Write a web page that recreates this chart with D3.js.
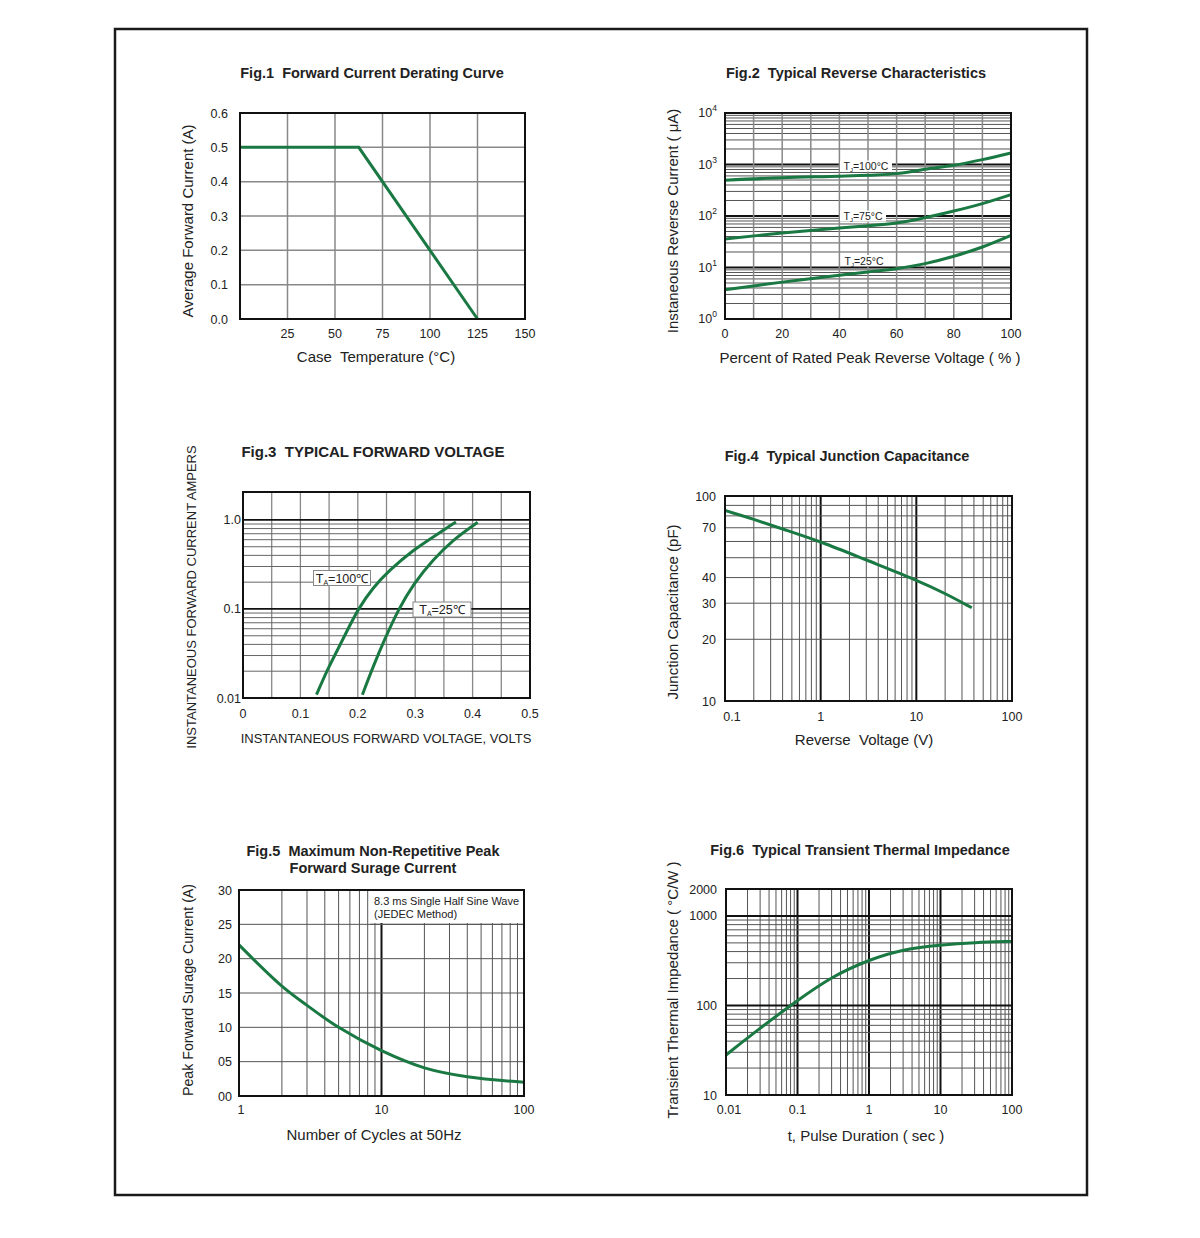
<!DOCTYPE html>
<html><head><meta charset="utf-8">
<script src="https://cdn.jsdelivr.net/npm/d3@7"></script>
<style>
body{margin:0;background:#fff;}
svg text{font-family:"Liberation Sans",Arial,sans-serif;fill:#222;white-space:pre;}
</style></head>
<body>
<svg id="c" width="1200" height="1238"></svg>
<script>
// ---------- DATA ----------
// Fig.1 Forward current derating
const fig1Temp = [0, 62.5, 125];
const fig1Current = [0.5, 0.5, 0.0];
const fig1XTicks = [25, 50, 75, 100, 125, 150];
const fig1YTicks = [0.0, 0.1, 0.2, 0.3, 0.4, 0.5, 0.6];

// Fig.2 Reverse characteristics
const fig2Pct = [0, 20, 40, 50, 60, 70, 80, 90, 100];
const fig2T100 = [493, 556, 590, 620, 665, 807, 965, 1245, 1672];
const fig2T75 = [35.7, 46.8, 58.5, 65, 73, 93, 125, 174, 260];
const fig2T25 = [3.7, 5.2, 7.06, 8.2, 9.5, 11.9, 16.5, 25, 42];
const fig2XTicks = [0, 20, 40, 60, 80, 100];
const fig2YExp = [0, 1, 2, 3, 4];
const fig2Labels = ["=100°C", "=75°C", "=25°C"];

// Fig.3 Forward voltage
const fig3V100 = [0.128, 0.148, 0.165, 0.182, 0.2006, 0.2267, 0.2558, 0.2965, 0.337, 0.371];
const fig3I100 = [0.0109, 0.0215, 0.035, 0.058, 0.1, 0.175, 0.275, 0.46, 0.68, 0.95];
const fig3V25 = [0.208, 0.2267, 0.247, 0.2704, 0.2965, 0.3314, 0.366, 0.4088];
const fig3I25 = [0.0109, 0.0226, 0.046, 0.098, 0.19, 0.36, 0.6, 0.94];
const fig3XTicks = [0, 0.1, 0.2, 0.3, 0.4, 0.5];
const fig3YTicks = ["0.01", "0.1", "1.0"];

// Fig.4 Junction capacitance
const fig4V = [0.1, 0.2, 0.4, 1, 3, 10, 20, 38];
const fig4C = [85, 77, 69, 60, 48.7, 39, 33.5, 28.5];
const fig4XTicks = ["0.1", "1", "10", "100"];
const fig4YTicks = [10, 20, 30, 40, 70, 100];

// Fig.5 Surge current
const fig5N = [1, 2, 3, 5, 10, 20, 40, 100];
const fig5I = [22, 16, 13.2, 10, 6.6, 4.1, 2.8, 2.0];
const fig5XTicks = ["1", "10", "100"];
const fig5YTicks = ["00", "05", "10", "15", "20", "25", "30"];

// Fig.6 Transient thermal impedance
const fig6T = [0.01, 0.03, 0.1, 0.3, 1, 3, 10, 30, 100];
const fig6Z = [28, 56, 114, 210, 325, 425, 475, 505, 520];
const fig6XTicks = ["0.01", "0.1", "1", "10", "100"];
const fig6YTicks = [10, 100, 1000, 2000];

// ---------- DRAW ----------
const GREEN = "#1a7943";
const svg = d3.select("#c");
svg.append("rect").attr("x", 115).attr("y", 29).attr("width", 972).attr("height", 1166)
  .attr("fill", "none").attr("stroke", "#1a1a1a").attr("stroke-width", 2.5);

function logMinors(lo, hi) {
  const out = [];
  for (let d = Math.floor(Math.log10(lo)); d < Math.ceil(Math.log10(hi)) + 1; d++) {
    for (let m = 1; m <= 9; m++) {
      const v = m * Math.pow(10, d);
      if (v > lo * 1.0001 && v < hi * 0.9999) out.push(v);
    }
  }
  return out;
}
function isDecade(v) { const l = Math.log10(v); return Math.abs(l - Math.round(l)) < 1e-9; }

function hLines(g, x, y, vals, styleFn) {
  vals.forEach(v => {
    const s = styleFn(v);
    g.append("line").attr("x1", x.range()[0]).attr("x2", x.range()[1])
      .attr("y1", y(v)).attr("y2", y(v)).attr("stroke", s[0]).attr("stroke-width", s[1]);
  });
}
function vLines(g, x, y, vals, styleFn) {
  vals.forEach(v => {
    const s = styleFn(v);
    g.append("line").attr("y1", y.range()[0]).attr("y2", y.range()[1])
      .attr("x1", x(v)).attr("x2", x(v)).attr("stroke", s[0]).attr("stroke-width", s[1]);
  });
}
function frame(g, x, y) {
  const [x0, x1] = x.range(), [y1, y0] = y.range();
  g.append("rect").attr("x", x0).attr("y", y0).attr("width", x1 - x0).attr("height", y1 - y0)
    .attr("fill", "none").attr("stroke", "#111").attr("stroke-width", 2);
}
function title(txt, cx, cy, fs) {
  svg.append("text").attr("x", cx).attr("y", cy).attr("text-anchor", "middle")
    .attr("font-size", fs || 14.5).attr("font-weight", "bold").text(txt);
}
function xTitle(txt, cx, cy, fs) {
  svg.append("text").attr("x", cx).attr("y", cy).attr("text-anchor", "middle")
    .attr("font-size", fs || 15).text(txt);
}
function yTitle(txt, cx, cy, fs) {
  svg.append("text").attr("transform", `translate(${cx},${cy}) rotate(-90)`)
    .attr("text-anchor", "middle").attr("font-size", fs || 15).text(txt);
}
function curve(g, x, y, xs, ys, cv) {
  const line = d3.line().x(d => x(d[0])).y(d => y(d[1])).curve(cv || d3.curveCatmullRom.alpha(0.5));
  g.append("path").attr("d", line(xs.map((v, i) => [v, ys[i]])))
    .attr("fill", "none").attr("stroke", GREEN).attr("stroke-width", 3).attr("stroke-linecap", "butt");
}
function xTickLabels(x, vals, yPos, fmt, firstDx) {
  vals.forEach((v, i) => svg.append("text").attr("x", x(+v) + (i === 0 && firstDx ? firstDx : 0)).attr("y", yPos).attr("text-anchor", "middle")
    .attr("font-size", 12.5).text(fmt ? fmt(v) : v));
}
function yTickLabels(y, vals, xPos, fmt) {
  vals.forEach(v => svg.append("text").attr("x", xPos).attr("y", y(+v) + 4.5).attr("text-anchor", "end")
    .attr("font-size", 12.5).text(fmt ? fmt(v) : v));
}

// ---- Fig.1 ----
{
  const x = d3.scaleLinear().domain([0, 150]).range([240, 525]);
  const y = d3.scaleLinear().domain([0, 0.6]).range([319, 113]);
  const g = svg.append("g");
  vLines(g, x, y, [25, 50, 75, 100, 125], () => ["#888", 1.5]);
  hLines(g, x, y, [0.1, 0.2, 0.3, 0.4, 0.5], () => ["#888", 1.5]);
  curve(g, x, y, fig1Temp, fig1Current, d3.curveLinear);
  frame(g, x, y);
  title("Fig.1  Forward Current Derating Curve", 372, 78);
  xTickLabels(x, fig1XTicks, 337.5);
  yTickLabels(y, fig1YTicks, 228, d => d.toFixed(1));
  xTitle("Case  Temperature (°C)", 376, 362);
  yTitle("Average Forward Current (A)", 193, 221);
}

// ---- Fig.2 ----
{
  const x = d3.scaleLinear().domain([0, 100]).range([725, 1011]);
  const y = d3.scaleLog().domain([1, 10000]).range([319, 113]);
  const g = svg.append("g");
  hLines(g, x, y, logMinors(1, 10000), v => isDecade(v) ? ["#111", 2] : ["#555", 1]);
  vLines(g, x, y, [10, 20, 30, 40, 50, 60, 70, 80, 90], () => ["#888", 1.5]);
  const lab = [[866, 166.5], [863, 216.5], [864, 261]];
  lab.forEach((p, i) => {
    const w = i === 0 ? 52 : 46;
    g.append("rect").attr("x", p[0] - w / 2).attr("y", p[1] - 6).attr("width", w).attr("height", 11).attr("fill", "#fff");
  });
  curve(g, x, y, fig2Pct, fig2T100);
  curve(g, x, y, fig2Pct, fig2T75);
  curve(g, x, y, fig2Pct, fig2T25);
  frame(g, x, y);
  lab.forEach((p, i) => {
    const t = g.append("text").attr("x", p[0]).attr("y", p[1] + 3.5).attr("text-anchor", "middle").attr("font-size", 10.5);
    t.append("tspan").text("T");
    t.append("tspan").attr("font-size", 6).attr("dy", 2).text("J");
    t.append("tspan").attr("dy", -2).text(fig2Labels[i]);
  });
  title("Fig.2  Typical Reverse Characteristics", 856, 78);
  xTickLabels(x, fig2XTicks, 338);
  fig2YExp.forEach(e => {
    const t = svg.append("text").attr("x", 717).attr("y", y(Math.pow(10, e)) + 4).attr("text-anchor", "end").attr("font-size", 12.5);
    t.append("tspan").text("10");
    t.append("tspan").attr("font-size", 8.5).attr("dy", -6).text(e);
  });
  xTitle("Percent of Rated Peak Reverse Voltage ( % )", 870, 363);
  yTitle("Instaneous Reverse Current ( μA)", 678, 221);
}

// ---- Fig.3 ----
{
  const x = d3.scaleLinear().domain([0, 0.5]).range([243, 530]);
  const y = d3.scaleLog().domain([0.01, 2.06]).range([698, 492]);
  const g = svg.append("g");
  vLines(g, x, y, d3.range(1, 10).map(i => i * 0.05), () => ["#888", 1.3]);
  hLines(g, x, y, logMinors(0.01, 1.0001).concat([1]), v => isDecade(v) ? ["#111", 1.8] : ["#666", 1]);
  curve(g, x, y, fig3V100, fig3I100, d3.curveBasis);
  curve(g, x, y, fig3V25, fig3I25, d3.curveBasis);
  frame(g, x, y);
  const lab = [[342, 578, "=100℃", 57], [442, 609.5, "=25℃", 58]];
  lab.forEach(p => {
    g.append("rect").attr("x", p[0] - p[3] / 2).attr("y", p[1] - 7.5).attr("width", p[3]).attr("height", 15)
      .attr("fill", "#fff").attr("stroke", "#888").attr("stroke-width", 1);
    const t = g.append("text").attr("x", p[0]).attr("y", p[1] + 4.5).attr("text-anchor", "middle").attr("font-size", 12.5);
    t.append("tspan").text("T");
    t.append("tspan").attr("font-size", 7).attr("dy", 2).text("A");
    t.append("tspan").attr("dy", -2).text(p[2]);
  });
  title("Fig.3  TYPICAL FORWARD VOLTAGE", 373, 457, 15);
  xTickLabels(x, fig3XTicks, 718, d => d === 0 ? "0" : d.toString());
  yTickLabels(y, fig3YTicks, 241);
  xTitle("INSTANTANEOUS FORWARD VOLTAGE, VOLTS", 386, 743, 13);
  yTitle("INSTANTANEOUS FORWARD CURRENT AMPERS", 196, 597, 13);
}

// ---- Fig.4 ----
{
  const x = d3.scaleLog().domain([0.1, 100]).range([725, 1012]);
  const y = d3.scaleLog().domain([10, 100]).range([701, 496]);
  const g = svg.append("g");
  vLines(g, x, y, logMinors(0.1, 100), v => isDecade(v) ? ["#111", 2] : ["#555", 1]);
  hLines(g, x, y, logMinors(10, 100), () => ["#555", 1]);
  curve(g, x, y, fig4V, fig4C, d3.curveBasis);
  frame(g, x, y);
  title("Fig.4  Typical Junction Capacitance", 847, 461);
  xTickLabels(x, fig4XTicks, 720.5, null, 7);
  yTickLabels(y, fig4YTicks, 716);
  xTitle("Reverse  Voltage (V)", 864, 745);
  yTitle("Junction Capacitance (pF)", 678, 612);
}

// ---- Fig.5 ----
{
  const x = d3.scaleLog().domain([1, 100]).range([239, 524]);
  const y = d3.scaleLinear().domain([0, 30]).range([1096, 890]);
  const g = svg.append("g");
  vLines(g, x, y, logMinors(1, 100), v => isDecade(v) ? ["#111", 2] : ["#555", 1]);
  hLines(g, x, y, [5, 10, 15, 20, 25], () => ["#555", 1]);
  g.append("rect").attr("x", 370).attr("y", 891).attr("width", 153).attr("height", 32).attr("fill", "#fff");
  g.append("line").attr("x1", 370).attr("x2", 524).attr("y1", y(25)).attr("y2", y(25)).attr("stroke", "#555").attr("stroke-width", 1);
  curve(g, x, y, fig5N, fig5I);
  frame(g, x, y);
  svg.append("text").attr("x", 374).attr("y", 904.5).attr("font-size", 11).text("8.3 ms Single Half Sine Wave");
  svg.append("text").attr("x", 374).attr("y", 917.5).attr("font-size", 11).text("(JEDEC Method)");
  title("Fig.5  Maximum Non-Repetitive Peak", 373, 856);
  title("Forward Surage Current", 373, 873);
  xTickLabels(x, fig5XTicks, 1114, null, 2);
  fig5YTicks.forEach(v => svg.append("text").attr("x", 232).attr("y", y(+v) + 4.5).attr("text-anchor", "end").attr("font-size", 12.5).text(v));
  xTitle("Number of Cycles at 50Hz", 374, 1140);
  yTitle("Peak Forward Surage Current (A)", 193, 990, 14.2);
}

// ---- Fig.6 ----
{
  const x = d3.scaleLog().domain([0.01, 100]).range([726, 1012]);
  const y = d3.scaleLog().domain([10, 2000]).range([1095, 889]);
  const g = svg.append("g");
  vLines(g, x, y, logMinors(0.01, 100), v => isDecade(v) ? ["#111", 2] : ["#555", 1]);
  hLines(g, x, y, logMinors(10, 2000), v => isDecade(v) ? ["#111", 2] : ["#555", 1]);
  curve(g, x, y, fig6T, fig6Z, d3.curveBasis);
  frame(g, x, y);
  title("Fig.6  Typical Transient Thermal Impedance", 860, 855);
  xTickLabels(x, fig6XTicks, 1114, null, 3);
  yTickLabels(y, fig6YTicks, 717);
  xTitle("t, Pulse Duration ( sec )", 866, 1141);
  yTitle("Transient Thermal Impedance ( °C/W )", 678, 990);
}
</script>
</body></html>
